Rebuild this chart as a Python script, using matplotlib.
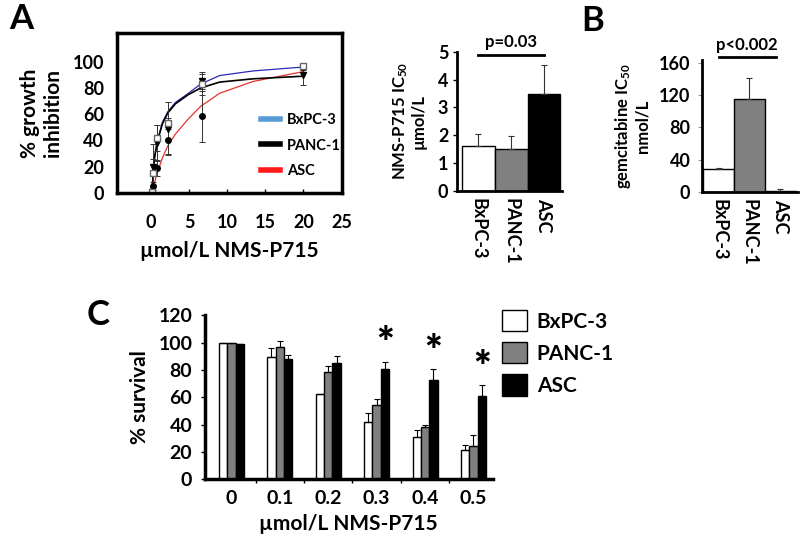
import matplotlib
matplotlib.use("Agg")
import matplotlib.pyplot as plt
from matplotlib.lines import Line2D
from matplotlib.patches import Patch
import numpy as np

plt.rcParams["font.family"] = ["Lato", "DejaVu Sans"]
plt.rcParams["font.weight"] = "bold"
plt.rcParams["axes.labelweight"] = "bold"
plt.rcParams["mathtext.default"] = "regular"

cells = ["BxPC-3", "PANC-1", "ASC"]

# panel A: growth inhibition vs NMS-P715 dose
conc = [0.08, 0.25, 0.74, 2.2, 6.7, 20]
inhib_bxpc3 = [1, 15, 42, 53, 83, 97]
inhib_bxpc3_err = [1, 22, 10, 4, 8, 2]
inhib_panc1 = [1, 20, 38, 49, 85, 90]
inhib_panc1_err = [1, 6, 14, 20, 7, 8]
inhib_asc = [1, 5, 19, 40, 59, 96]
inhib_asc_err = [1, 3, 6, 10, 20, 2]

# fitted curves
fit_x = [0.1, 0.4, 0.8, 1.5, 2.2, 3.2, 4.9, 6.5, 9, 13.4, 20]
fit_bxpc3 = [0, 25, 39, 54, 62, 69, 76, 83, 89.5, 93, 96]
fit_panc1 = [0, 25, 39, 53, 61, 68, 75, 80, 84.5, 87, 89]
fit_asc = [0, 7, 15, 27, 36, 45, 56.5, 66, 76, 85, 92.5]

# panel A right: NMS-P715 IC50 (umol/L)
ic50_nms = [1.62, 1.52, 3.49]
ic50_nms_err = [0.43, 0.44, 1.03]

# panel B: gemcitabine IC50 (nmol/L)
ic50_gem = [27.8, 114.6, 1.0]
ic50_gem_err = [2.2, 26, 2]

# panel C: survival
doses = ["0", "0.1", "0.2", "0.3", "0.4", "0.5"]
surv_bxpc3 = [99.6, 89.3, 62.2, 42.2, 31.2, 21]
surv_bxpc3_err = [0, 6.7, 0, 6.1, 4.8, 4]
surv_panc1 = [99.6, 97, 78.8, 54.4, 38.5, 24.6]
surv_panc1_err = [0, 4, 4.2, 4.2, 1.2, 7.8]
surv_asc = [99, 88.3, 85.4, 80.5, 72.7, 61]
surv_asc_err = [0, 2.7, 5.1, 5.5, 8, 8]
signif = [False, False, False, True, True, True]

bar_colors = ["white", "#808080", "black"]

fig = plt.figure(figsize=(8, 5.39), dpi=100)

# ---------- panel A curve ----------
ax = fig.add_axes([0.146, 0.642, 0.281, 0.297])
ax.plot(fit_x, fit_asc, color="#e8322e", lw=0.9)
ax.plot(fit_x, fit_bxpc3, color="#2a2ab8", lw=0.9)
ax.plot(fit_x, fit_panc1, color="black", lw=1.2)
ekw = dict(ecolor="#333333", elinewidth=0.7, capsize=2, capthick=0.7, ls="none")
ax.errorbar(conc, inhib_asc, yerr=inhib_asc_err, marker="o", ms=4,
            mfc="black", mec="black", **ekw)
ax.errorbar(conc, inhib_panc1, yerr=inhib_panc1_err, marker="v", ms=4,
            mfc="black", mec="black", **ekw)
ax.errorbar(conc, inhib_bxpc3, yerr=inhib_bxpc3_err, marker="s", ms=4,
            mfc="white", mec="#666666", **ekw)
ax.set_xlim(-4.5, 25)
ax.set_ylim(0, 122)
ax.set_xticks([0, 5, 10, 15, 20, 25])
ax.set_yticks([0, 20, 40, 60, 80, 100])
ax.tick_params(axis="x", direction="in", length=3, width=1, pad=15, labelsize=13)
ax.tick_params(axis="y", length=0, pad=9, labelsize=13)
for s in ax.spines.values():
    s.set_linewidth(2.5)
ax.set_ylabel("% growth\ninhibition", fontsize=15, labelpad=7, linespacing=1.2)
ax.set_xlabel("µmol/L NMS-P715", fontsize=15, labelpad=7)
handles = [Line2D([], [], color="#5b9bd5", lw=4),
           Line2D([], [], color="black", lw=4),
           Line2D([], [], color="#ff1a1a", lw=4)]
ax.legend(handles, cells, loc="upper left", bbox_to_anchor=(0.64, 0.5),
          frameon=False, fontsize=10.5, handlelength=1.3, handletextpad=0.5,
          labelspacing=0.8, borderpad=0, borderaxespad=0)

# ---------- panel A bar: NMS-P715 IC50 ----------
ax2 = fig.add_axes([0.571, 0.646, 0.132, 0.258])
x3 = np.arange(3)
ax2.bar(x3, ic50_nms, width=1.0, color=bar_colors, edgecolor="black", lw=1)
ax2.errorbar(x3, ic50_nms, yerr=[np.zeros(3), ic50_nms_err], ls="none",
             ecolor="#333333", elinewidth=0.8, capsize=2, capthick=0.8)
ax2.set_xlim(-0.65, 2.56)
ax2.set_ylim(0, 5)
ax2.set_yticks(range(6))
ax2.set_xticks(x3)
ax2.set_xticklabels(cells, rotation=-90, va="top", ha="center")
ax2.tick_params(axis="x", length=0, pad=5, labelsize=13)
ax2.tick_params(axis="y", length=3, width=1, pad=3, labelsize=13)
ax2.spines[["top", "right"]].set_visible(False)
ax2.spines[["left", "bottom"]].set_linewidth(2)
ax2.set_ylabel("NMS-P715 IC$_{50}$\nµmol/L", fontsize=12, labelpad=8, linespacing=1.1)
ax2.plot([0, 2], [4.88, 4.88], color="black", lw=2, clip_on=False)
ax2.text(1, 5.08, "p=0.03", ha="center", va="bottom", fontsize=12)

# ---------- panel B: gemcitabine IC50 ----------
axb = fig.add_axes([0.877, 0.644, 0.12, 0.244])
axb.bar(x3, ic50_gem, width=1.0, color=bar_colors, edgecolor="black", lw=1)
axb.errorbar(x3, ic50_gem, yerr=[np.zeros(3), ic50_gem_err], ls="none",
             ecolor="#333333", elinewidth=0.8, capsize=2, capthick=0.8)
axb.set_xlim(-0.55, 2.56)
axb.set_ylim(0, 163)
axb.set_yticks([0, 40, 80, 120, 160])
axb.set_xticks(x3)
axb.set_xticklabels(cells, rotation=-90, va="top", ha="center")
axb.tick_params(axis="x", length=0, pad=5, labelsize=13)
axb.tick_params(axis="y", length=3, width=0.8, color="#999999", pad=5, labelsize=13)
axb.spines[["top", "right"]].set_visible(False)
axb.spines[["left", "bottom"]].set_linewidth(2)
axb.set_ylabel("gemcitabine IC$_{50}$\nnmol/L", fontsize=12, labelpad=6, linespacing=1.1)
axb.plot([0, 1.85], [167.5, 167.5], color="black", lw=2, clip_on=False)
axb.text(0.93, 172, "p<0.002", ha="center", va="bottom", fontsize=12)

# ---------- panel C: survival ----------
axc = fig.add_axes([0.256, 0.111, 0.36, 0.304])
xg = np.arange(len(doses))
w = 0.172
series = [(surv_bxpc3, surv_bxpc3_err), (surv_panc1, surv_panc1_err), (surv_asc, surv_asc_err)]
for j, (vals, errs) in enumerate(series):
    pos = xg + (j - 1) * w
    axc.bar(pos, vals, width=w, color=bar_colors[j], edgecolor="black", lw=1,
            label=cells[j])
    axc.errorbar(pos, vals, yerr=[np.zeros(len(vals)), errs], ls="none",
                 ecolor="black", elinewidth=0.8, capsize=2, capthick=0.8)
for i, s in enumerate(signif):
    if s:
        axc.text(xg[i] + w, surv_asc[i] + surv_asc_err[i] - 2, "*",
                 ha="center", va="bottom", fontsize=30, fontweight="heavy")
axc.set_xlim(-0.55, 5.4)
axc.set_ylim(0, 120)
axc.set_yticks(range(0, 121, 20))
axc.set_xticks(xg)
axc.set_xticklabels(doses)
axc.set_xticks(xg[:-1] + 0.5, minor=True)
axc.tick_params(axis="x", which="major", length=0, pad=8, labelsize=14)
axc.tick_params(axis="x", which="minor", length=3, width=1)
axc.tick_params(axis="y", length=3, width=1, pad=6, labelsize=14)
axc.spines[["top", "right"]].set_visible(False)
axc.spines[["left", "bottom"]].set_linewidth(2.5)
axc.set_ylabel("% survival", fontsize=15, labelpad=6)
axc.set_xlabel("µmol/L NMS-P715", fontsize=15, labelpad=5)
fig.legend([Patch(facecolor=c, edgecolor="black", lw=1) for c in bar_colors], cells,
           loc="upper left", bbox_to_anchor=(0.628, 0.425), frameon=False,
           fontsize=15, handlelength=1.2, handleheight=1.2, handletextpad=0.45,
           labelspacing=0.5, borderpad=0, borderaxespad=0)

# panel letters
fig.text(0.012, 0.995, "A", fontsize=25, va="top", ha="left")
fig.text(0.727, 0.99, "B", fontsize=25, va="top", ha="left")
fig.text(0.108, 0.445, "C", fontsize=25, va="top", ha="left")

fig.savefig("out.png", dpi=100)
